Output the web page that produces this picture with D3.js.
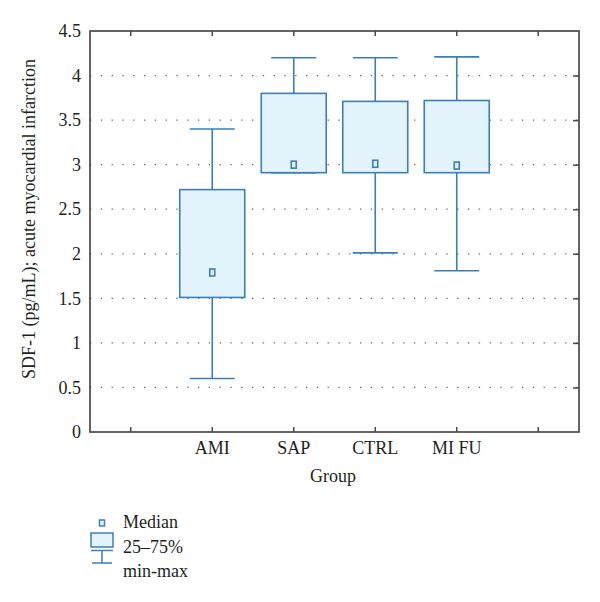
<!DOCTYPE html>
<html><head><meta charset="utf-8">
<script src="https://cdn.jsdelivr.net/npm/d3@7"></script>
<style>body{margin:0;background:#fff}svg{display:block}text{font-family:"Liberation Serif","Times New Roman",serif;fill:#231f20}</style>
</head><body><svg id="c" width="600" height="602"></svg>
<script>
const slots = ["", "AMI", "SAP", "CTRL", "MI FU", " "];
const groups = ["AMI", "SAP", "CTRL", "MI FU"];
const mins    = [0.60, 2.91, 2.01, 1.81];
const q1s     = [1.51, 2.91, 2.91, 2.91];
const medians = [1.79, 3.00, 3.01, 2.99];
const q3s     = [2.72, 3.80, 3.71, 3.72];
const maxs    = [3.40, 4.20, 4.20, 4.21];
const yTicks  = [0, 0.5, 1, 1.5, 2, 2.5, 3, 3.5, 4, 4.5];

const stroke = "#3b7fb6", fill = "#e3f4fc", frame = "#4a4a4a";
const FS = 18;
const svg = d3.select("#c");
const L = 90, R = 579, T = 31, B = 432;
const x = d3.scaleBand().domain(slots).range([L, R]);
const y = d3.scaleLinear().domain([0, 4.5]).range([B, T]);

// grid
svg.append("g").selectAll("line").data(yTicks.filter(d => d > 0 && d < 4.5)).join("line")
  .attr("x1", L).attr("x2", R).attr("y1", d => y(d)).attr("y2", d => y(d))
  .attr("stroke", "#666").attr("stroke-width", 1.3).attr("stroke-dasharray", "1.3,9.5");

// boxes
const bw = 65, cw = 45;
const g = svg.append("g");
groups.forEach((k, i) => {
  const cx = x(k) + x.bandwidth() / 2;
  g.append("line").attr("x1", cx).attr("x2", cx).attr("y1", y(maxs[i])).attr("y2", y(q3s[i])).attr("stroke", stroke).attr("stroke-width", 1.6);
  g.append("line").attr("x1", cx).attr("x2", cx).attr("y1", y(q1s[i])).attr("y2", y(mins[i])).attr("stroke", stroke).attr("stroke-width", 1.6);
  g.append("line").attr("x1", cx - cw/2).attr("x2", cx + cw/2).attr("y1", y(maxs[i])).attr("y2", y(maxs[i])).attr("stroke", stroke).attr("stroke-width", 1.6);
  g.append("line").attr("x1", cx - cw/2).attr("x2", cx + cw/2).attr("y1", y(mins[i])).attr("y2", y(mins[i])).attr("stroke", stroke).attr("stroke-width", 1.6);
  g.append("rect").attr("x", cx - bw/2).attr("y", y(q3s[i])).attr("width", bw).attr("height", y(q1s[i]) - y(q3s[i]))
    .attr("fill", fill).attr("stroke", stroke).attr("stroke-width", 1.6);
  g.append("rect").attr("x", cx - 2.5).attr("y", y(medians[i]) - 3.5).attr("width", 5).attr("height", 7)
    .attr("fill", fill).attr("stroke", stroke).attr("stroke-width", 1.6);
});

// frame
svg.append("rect").attr("x", L).attr("y", T).attr("width", R - L).attr("height", B - T)
  .attr("fill", "none").attr("stroke", frame).attr("stroke-width", 1.7);

// axes
const xb = svg.append("g").attr("transform", `translate(0,${B})`)
  .call(d3.axisBottom(x).tickSizeInner(-5).tickSizeOuter(0).tickPadding(9));
xb.select(".domain").remove();
xb.selectAll("line").attr("stroke", frame).attr("stroke-width", 1.5);
xb.selectAll("text").attr("font-size", FS).attr("font-family", "Liberation Serif").attr("fill", "#231f20");
const xt = svg.append("g").attr("transform", `translate(0,${T})`)
  .call(d3.axisTop(x).tickSizeInner(-5).tickSizeOuter(0).tickFormat(""));
xt.select(".domain").remove();
xt.selectAll("line").attr("stroke", frame).attr("stroke-width", 1.5);

const yl = svg.append("g").attr("transform", `translate(${L},0)`)
  .call(d3.axisLeft(y).tickValues(yTicks).tickSize(0).tickPadding(9).tickFormat(d3.format("")));
yl.select(".domain").remove();
yl.selectAll("text").attr("font-size", FS).attr("font-family", "Liberation Serif").attr("fill", "#231f20");
const yr = svg.append("g").attr("transform", `translate(${R},0)`)
  .call(d3.axisRight(y).tickValues(yTicks.filter(d => d > 0 && d < 4.5)).tickSize(-6).tickFormat(""));
yr.select(".domain").remove();
yr.selectAll("line").attr("stroke", frame).attr("stroke-width", 1.5);

// titles
svg.append("text").attr("x", 333).attr("y", 482).attr("text-anchor", "middle").attr("font-size", FS).text("Group");
svg.append("text").attr("transform", "translate(35,219) rotate(-90)").attr("text-anchor", "middle").attr("font-size", FS)
  .text("SDF-1 (pg/mL); acute myocardial infarction");

// legend
const lg = svg.append("g");
lg.append("rect").attr("x", 99.5).attr("y", 520).attr("width", 5).attr("height", 6).attr("fill", fill).attr("stroke", stroke).attr("stroke-width", 1.5);
lg.append("rect").attr("x", 91).attr("y", 533).attr("width", 22).attr("height", 14).attr("fill", fill).attr("stroke", stroke).attr("stroke-width", 1.5);
lg.append("line").attr("x1", 91).attr("x2", 113).attr("y1", 550.5).attr("y2", 550.5).attr("stroke", stroke).attr("stroke-width", 1.5);
lg.append("line").attr("x1", 102).attr("x2", 102).attr("y1", 550.5).attr("y2", 563).attr("stroke", stroke).attr("stroke-width", 1.5);
lg.append("line").attr("x1", 92).attr("x2", 112).attr("y1", 563).attr("y2", 563).attr("stroke", stroke).attr("stroke-width", 1.5);
[["Median", 528], ["25–75%", 553], ["min-max", 577]].forEach(([t, yy]) =>
  lg.append("text").attr("x", 123).attr("y", yy).attr("font-size", FS).text(t));
</script></body></html>
